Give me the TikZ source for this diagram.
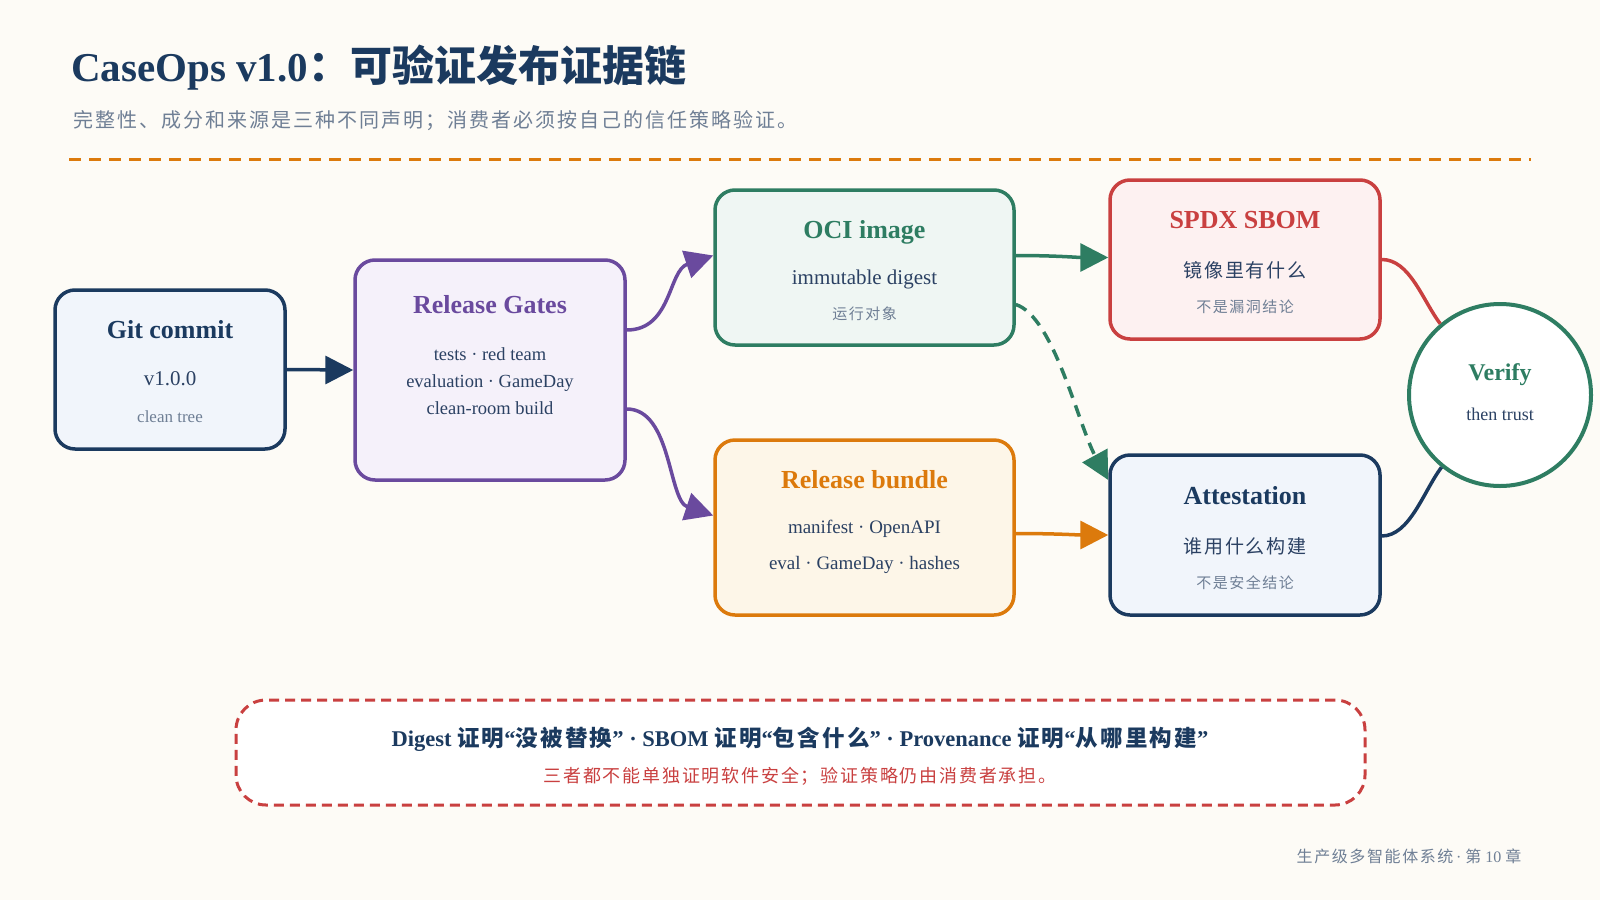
\documentclass[tikz,border=0pt]{standalone}
\usepackage{fontspec}
\setmainfont{Liberation Serif}
\newfontfamily\cjk[LetterSpace=10]{Noto Sans CJK SC}
\newfontfamily\cjkt{Noto Sans CJK SC}
\usetikzlibrary{arrows.meta}
\definecolor{bg}{HTML}{FDFBF6}
\definecolor{navy}{HTML}{1B3A5F}
\definecolor{navyfill}{HTML}{F1F5FB}
\definecolor{purp}{HTML}{6A4A9E}
\definecolor{purpfill}{HTML}{F5F1FA}
\definecolor{grn}{HTML}{2E7D62}
\definecolor{grnfill}{HTML}{EFF6F3}
\definecolor{rd}{HTML}{C94040}
\definecolor{rdfill}{HTML}{FDF1F1}
\definecolor{orng}{HTML}{DC7A0C}
\definecolor{orngfill}{HTML}{FDF6E8}
\definecolor{bodytxt}{HTML}{2B4163}
\definecolor{graytxt}{HTML}{6F7F95}
\begin{document}
\begin{tikzpicture}[x=1pt,y=-1pt,
  box/.style={draw, line width=3.5pt, rounded corners=20pt},
  ttl/.style={font=\bfseries\fontsize{26}{30}\selectfont},
  sub/.style={font=\fontsize{19}{23}\selectfont, text=bodytxt},
  subcjk/.style={font=\cjk\fontsize{19}{23}\selectfont, text=bodytxt},
  note/.style={font=\cjk\fontsize{15}{18}\selectfont, text=graytxt},
  notel/.style={font=\fontsize{17}{20}\selectfont, text=graytxt},
  arr/.style={line width=3.5pt, -{Triangle[length=28pt,width=28pt]}},
  link/.style={line width=3.5pt}
]
\fill[bg] (0,0) rectangle (1600,900);
\useasboundingbox (0,0) rectangle (1600,900);

% title
\node[anchor=base west, inner sep=0, text=navy, font=\bfseries\fontsize{41}{46}\selectfont] (title) at (71,81)
  {CaseOps v1.0{\cjkt\fontsize{42}{46}\selectfont ：可验证发布证据链}};
\node[anchor=west, inner sep=0, text=graytxt, font=\cjk\fontsize{20}{24}\selectfont] (subtitle) at (73,121)
  {完整性、成分和来源是三种不同声明；消费者必须按自己的信任策略验证。};
\coordinate (sepL) at (69,159);
\coordinate (sepR) at (1531,159);
\draw[orng, line width=3pt, dash pattern=on 12pt off 8pt] (sepL) -- (sepR);

% boxes
\node[box, draw=navy, fill=navyfill, minimum width=230pt, minimum height=159pt] (git) at (170,369.5) {};
\node[box, draw=purp, fill=purpfill, minimum width=270pt, minimum height=220pt] (gates) at (490,370) {};
\node[box, draw=grn, fill=grnfill, minimum width=299pt, minimum height=155pt] (oci) at (864.5,267.5) {};
\node[box, draw=rd, fill=rdfill, minimum width=270pt, minimum height=159pt] (sbom) at (1245,259.5) {};
\node[box, draw=orng, fill=orngfill, minimum width=299pt, minimum height=175pt] (bundle) at (864.5,527.5) {};
\node[box, draw=navy, fill=navyfill, minimum width=270pt, minimum height=160pt] (att) at (1245,535) {};
\node[circle, draw=grn, line width=4pt, fill=white, minimum size=182pt] (verify) at (1500,395) {};

% box texts
\node[ttl, text=navy] (gitT) at (170,330) {Git commit};
\node[font=\fontsize{21}{25}\selectfont, text=bodytxt] (gitV) at (170,379) {v1.0.0};
\node[notel] (gitN) at (170,417) {clean tree};

\node[ttl, text=purp] (gatesT) at (490,305) {Release Gates};
\node[sub, align=center, font=\fontsize{18.5}{27}\selectfont] (gatesL) at (490,381) {tests · red team\\evaluation · GameDay\\clean-room build};

\node[ttl, text=grn] (ociT) at (864.5,232) {OCI image};
\node[sub, font=\fontsize{21}{25}\selectfont] (ociL) at (864.5,279) {immutable digest};
\node[note] (ociN) at (864.5,314) {运行对象};

\node[ttl, text=rd] (sbomT) at (1245,220) {SPDX SBOM};
\node[subcjk] (sbomL) at (1245,270) {镜像里有什么};
\node[note] (sbomN) at (1245,307) {不是漏洞结论};

\node[ttl, text=orng] (bundleT) at (864.5,480) {Release bundle};
\node[sub] (bundleL1) at (864.5,529) {manifest · OpenAPI};
\node[sub] (bundleL2) at (864.5,565) {eval · GameDay · hashes};

\node[ttl, text=navy] (attT) at (1245,496) {Attestation};
\node[subcjk] (attL) at (1245,546) {谁用什么构建};
\node[note] (attN) at (1245,583) {不是安全结论};

\node[font=\bfseries\fontsize{24}{28}\selectfont, text=grn] (verT) at (1500,375) {Verify};
\node[notel, text=bodytxt, font=\fontsize{18}{22}\selectfont] (verN) at (1500,414) {then trust};

% connectors
\draw[arr, navy] (git.east) .. controls +(30,0) and +(-20,0) .. (gates.west);
\draw[arr, purp] ([yshift=40pt]gates.east) .. controls +(45,0) and +(-45,15) .. ([yshift=12pt]oci.west);
\draw[arr, purp] ([yshift=-39pt]gates.east) .. controls +(45,0) and +(-45,-15) .. ([yshift=12pt]bundle.west);
\draw[arr, grn] ([yshift=12pt]oci.east) .. controls +(40,0) and +(-30,0) .. ([yshift=2pt]sbom.west);
\draw[arr, grn, dash pattern=on 12pt off 8pt] ([yshift=-37pt]oci.east) .. controls +(38,12) and +(-30,-55) .. ([yshift=55pt]att.west);
\draw[arr, orng] ([yshift=-6pt]bundle.east) .. controls +(40,0) and +(-30,0) .. (att.west);
\draw[link, rd] (sbom.east) .. controls +(28,0) and +(-18,-24) .. (verify.130);
\draw[link, navy] ([yshift=-1pt]att.east) .. controls +(28,0) and +(-18,24) .. (verify.231);

% bottom box
\node[draw=rd, line width=3pt, dash pattern=on 10pt off 6pt, rounded corners=30pt, fill=white, minimum width=1129pt, minimum height=105pt] (summary) at (800.5,752.5) {};
\node[text=navy, font=\bfseries\fontsize{22.5}{26}\selectfont] (sumL1) at (800,739)
  {Digest {\cjk 证明}“{\cjk 没被替换}” · SBOM {\cjk 证明}“{\cjk 包含什么}” · Provenance {\cjk 证明}“{\cjk 从哪里构建}”};
\node[text=rd, font=\cjk\fontsize{18}{22}\selectfont] (sumL2) at (800,776)
  {三者都不能单独证明软件安全；验证策略仍由消费者承担。};

% footer
\node[anchor=east, text=graytxt, font=\fontsize{16}{19}\selectfont] (footer) at (1525,856)
  {{\cjk 生产级多智能体系统}\,· {\cjk 第} 10 {\cjk 章}};
\end{tikzpicture}
\end{document}
